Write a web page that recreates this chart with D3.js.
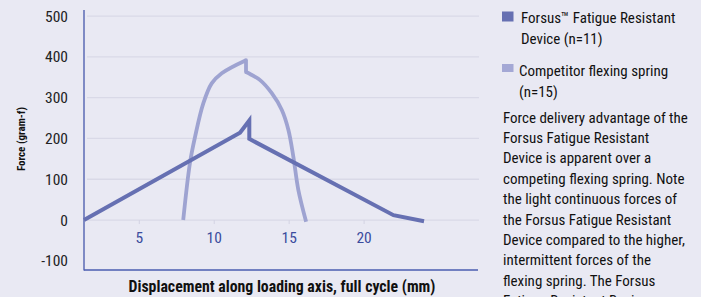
<!DOCTYPE html>
<html><head><meta charset="utf-8">
<script src="https://cdn.jsdelivr.net/npm/d3@7"></script>
<style>
html,body{margin:0;padding:0;background:#e9e9f3;}
svg{display:block;}
text{font-family:"Liberation Sans Narrow","Roboto Condensed","DejaVu Sans Condensed",sans-serif;}
</style></head>
<body>
<svg id="c" width="701" height="297"></svg>
<script>
// ---- data ----
const forsusX = [1.31, 11.72, 12.34, 12.34, 21.96, 24.0];
const forsusY = [0, 214, 244, 199, 12, -3];
// competitor: rising branch (ends at the peak) and falling branch (starts at the notch)
const competitorRiseX = [7.93, 8.38, 8.72, 9.27, 9.83, 10.5, 12.12];
const competitorRiseY = [0, 140, 204, 286, 335, 360, 392];
const competitorFallX = [12.12, 12.39, 13.06, 13.84, 14.51, 14.95, 15.28, 15.61, 16.13];
const competitorFallY = [363, 358, 343, 311, 270, 221, 155, 74, -4];
const yTicks = [500, 400, 300, 200, 100, 0, -100];
const xTicks = [5, 10, 15, 20];
const seriesNames = ["Forsus\u2122 Fatigue Resistant", "Device (n=11)"];
const seriesNames2 = ["Competitor flexing spring", "(n=15)"];
const noteLines = ["Force delivery advantage of the", "Forsus Fatigue Resistant", "Device is apparent over a",
  "competing flexing spring. Note", "the light continuous forces of", "the Forsus Fatigue Resistant",
  "Device compared to the higher,", "intermittent forces of the", "flexing spring. The Forsus", "Fatigue Resistant Device"];
const xTitle = "Displacement along loading axis, full cycle (mm)";
const yTitle = "Force (gram-f)";

// ---- drawing ----
const svg = d3.select("#c");
const x = d3.scaleLinear().domain([1.31, 27.6]).range([84, 478]);
const y = d3.scaleLinear().domain([-122.5, 515]).range([270, 10]);

const cForsus = "#6670b2", cComp = "#9ea3d1";

// gridlines
svg.append("g").selectAll("line").data(yTicks.filter(d => d >= 0)).join("line")
  .attr("x1", 87).attr("x2", 479).attr("y1", d => y(d)).attr("y2", d => y(d))
  .attr("stroke", "#d9d9e7").attr("stroke-width", 1.3);

// x ticks on zero line
svg.append("g").selectAll("line").data(xTicks).join("line")
  .attr("x1", d => x(d)).attr("x2", d => x(d)).attr("y1", y(0)).attr("y2", y(0) + 4)
  .attr("stroke", "#d3d3e3").attr("stroke-width", 1);

// y tick labels
svg.append("g").selectAll("text").data(yTicks).join("text")
  .attr("x", 68).attr("y", d => y(d) + 5.5).attr("text-anchor", "end")
  .attr("font-size", 15.5).attr("fill", "#222").text(d => d);

// x tick labels
svg.append("g").selectAll("text").data(xTicks).join("text")
  .attr("x", d => x(d)).attr("y", 242.5).attr("text-anchor", "middle")
  .attr("font-size", 15.5).attr("fill", "#3b4c9e").text(d => d);

// axis lines
svg.append("line").attr("x1", 84).attr("x2", 84).attr("y1", 10).attr("y2", 270.5)
  .attr("stroke", "#5b6ab5").attr("stroke-width", 1.5);
svg.append("line").attr("x1", 84).attr("x2", 478).attr("y1", 270).attr("y2", 270)
  .attr("stroke", "#4a5cb0").attr("stroke-width", 1.5);

// lines
const smooth = d3.line().x(d => x(d[0])).y(d => y(d[1])).curve(d3.curveCatmullRom.alpha(0.5));
const straight = d3.line().x(d => x(d[0])).y(d => y(d[1]));
const rise = competitorRiseX.map((v, i) => [v, competitorRiseY[i]]);
const fall = competitorFallX.map((v, i) => [v, competitorFallY[i]]);
const compStyle = p => p.attr("fill", "none").attr("stroke", cComp).attr("stroke-width", 3.8)
  .attr("stroke-linejoin", "round").attr("stroke-linecap", "butt");
svg.append("path").datum(rise).attr("d", smooth).call(compStyle);
svg.append("path").datum([rise[rise.length - 1], fall[0]]).attr("d", straight).call(compStyle).attr("stroke-linecap", "round");
svg.append("path").datum(fall).attr("d", smooth).call(compStyle);
svg.append("path").datum(forsusX.map((v, i) => [v, forsusY[i]]))
  .attr("d", straight).attr("fill", "none").attr("stroke", cForsus)
  .attr("stroke-width", 4).attr("stroke-linejoin", "miter");

// axis titles
svg.append("text").attr("x", 282).attr("y", 292).attr("text-anchor", "middle")
  .attr("font-size", 15.8).attr("font-weight", "bold").attr("fill", "#111").text(xTitle);
svg.append("text").attr("transform", "translate(25,139) rotate(-90)").attr("text-anchor", "middle")
  .attr("font-size", 11).attr("font-weight", "bold").attr("fill", "#111").text(yTitle);

// legend
svg.append("rect").attr("x", 502).attr("y", 11.5).attr("width", 11.5).attr("height", 10).attr("fill", cForsus);
svg.append("rect").attr("x", 502).attr("y", 64).attr("width", 11.5).attr("height", 8).attr("fill", "#a4a8d5");
svg.append("g").selectAll("text").data(seriesNames).join("text")
  .attr("x", 521).attr("y", (d, i) => 22.5 + i * 21.5).attr("font-size", 15).attr("fill", "#111").text(d => d);
svg.append("g").selectAll("text").data(seriesNames2).join("text")
  .attr("x", 519).attr("y", (d, i) => 75.5 + i * 21.5).attr("font-size", 15).attr("fill", "#111").text(d => d);

// note
svg.append("g").selectAll("text").data(noteLines).join("text")
  .attr("x", 503).attr("y", (d, i) => 122.5 + i * 20.4).attr("font-size", 15).attr("fill", "#111").text(d => d);
</script>
</body></html>
